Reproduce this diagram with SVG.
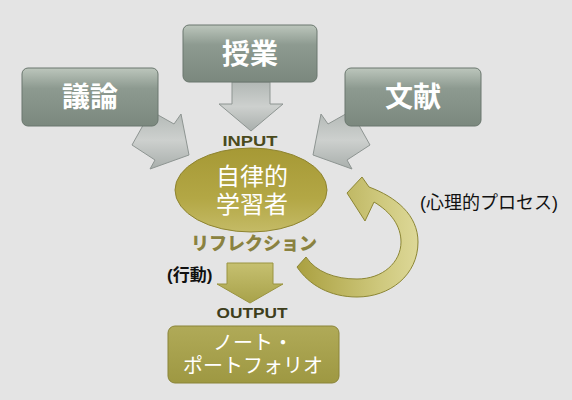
<svg xmlns="http://www.w3.org/2000/svg" width="572" height="400" viewBox="0 0 572 400">
<defs>
<linearGradient id="gBox" x1="0" y1="0" x2="0" y2="1">
<stop offset="0" stop-color="#bcc6bc"/><stop offset="0.35" stop-color="#8d9a90"/><stop offset="1" stop-color="#7b887e"/>
</linearGradient>
<linearGradient id="gGray" x1="0" y1="0" x2="0" y2="1">
<stop offset="0" stop-color="#b2b8b5"/><stop offset="0.5" stop-color="#cdd0ce"/><stop offset="1" stop-color="#a9afac"/>
</linearGradient>
<linearGradient id="gOlive" x1="0" y1="0" x2="0" y2="1">
<stop offset="0" stop-color="#c6c070"/><stop offset="1" stop-color="#a8a24a"/>
</linearGradient>
<linearGradient id="gEll" x1="0" y1="0" x2="0" y2="1">
<stop offset="0" stop-color="#a69935"/><stop offset="0.6" stop-color="#b3a745"/><stop offset="1" stop-color="#c4bb66"/>
</linearGradient>
<linearGradient id="gOut" x1="0" y1="0" x2="0" y2="1">
<stop offset="0" stop-color="#b0aa58"/><stop offset="1" stop-color="#9e9842"/>
</linearGradient>
<linearGradient id="gCirc" x1="0" y1="0" x2="1" y2="0">
<stop offset="0" stop-color="#aaa040"/><stop offset="0.7" stop-color="#cfc97e"/><stop offset="1" stop-color="#ddd898"/>
</linearGradient>
</defs>
<style>
.box{fill:url(#gBox);stroke:#6a776e;stroke-width:1}
.gray{fill:url(#gGray);stroke:#8e9592;stroke-width:1}
.olive{fill:url(#gOlive);stroke:#9a9440;stroke-width:1}
.bt{font-family:"Liberation Sans","Noto Sans CJK JP",sans-serif;font-weight:bold;font-size:28px;fill:#ffffff;text-anchor:middle}
.wt{font-family:"Liberation Sans","Noto Sans CJK JP",sans-serif;font-size:24px;fill:#ffffff;text-anchor:middle}
.ot{font-family:"Liberation Sans","Noto Sans CJK JP",sans-serif;font-size:20px;fill:#ffffff;text-anchor:middle}
.lab{font-family:"Liberation Sans","Noto Sans CJK JP",sans-serif;font-weight:900;text-anchor:middle}
.blk{font-family:"Liberation Sans","Noto Sans CJK JP",sans-serif;fill:#111111}
</style>
<rect width="572" height="400" fill="#e4e4e4"/>
<g id="connectors">
<polygon class="gray" points="232,82 270,82 270,104 283,104 251,131 219,104 232,104"/>
<polygon class="gray" points="151,111 174,124 181,114 189,155 150,169 155,160 132,145"/>
<polygon class="gray" points="351,111 328,124 321,114 313,155 352,169 347,160 370,145"/>
<polygon class="olive" points="227,263 273,263 273,284 283,284 250,303 217,284 227,284"/>
<path d="M369,187 C396,197 418,215 418,242 C418,275 390,297 357,297 C330,297 309,285 297,267 L306,257 C316,272 335,279 357,279 C383,279 401,262 401,242 C401,226 391,212 374,202 L365,221 L347,193 L362,177 Z" fill="url(#gCirc)" stroke="#8c8634" stroke-width="1"/>
</g>
<g id="node-giron">
<rect class="box" x="22" y="68" width="136" height="58" rx="6"/>
<text class="bt" x="90" y="107">議論</text>
</g>
<g id="node-jugyo">
<rect class="box" x="183" y="25" width="134" height="57" rx="6"/>
<text class="bt" x="250" y="64">授業</text>
</g>
<g id="node-bunken">
<rect class="box" x="345" y="68" width="136" height="58" rx="6"/>
<text class="bt" x="413" y="107">文献</text>
</g>
<g id="label-input">
<text class="lab" x="250" y="146" font-size="15" fill="#4a4a1c" textLength="55" lengthAdjust="spacingAndGlyphs">INPUT</text>
</g>
<g id="node-learner">
<ellipse cx="251" cy="190" rx="76" ry="42" fill="url(#gEll)" stroke="#8e8430" stroke-width="1"/>
<text class="wt" x="252" y="185">自律的</text>
<text class="wt" x="252" y="213">学習者</text>
</g>
<g id="label-reflection">
<text class="lab" x="254" y="250" font-size="18" fill="#8a8240">リフレクション</text>
</g>
<g id="label-process">
<text class="blk" x="420" y="209" font-size="18">(心理的プロセス)</text>
</g>
<g id="label-action">
<text class="blk" x="167" y="281" font-size="17" font-weight="bold">(行動)</text>
</g>
<g id="label-output">
<text class="lab" x="252" y="318" font-size="15" fill="#3e3e1c" textLength="71" lengthAdjust="spacingAndGlyphs">OUTPUT</text>
</g>
<g id="node-portfolio">
<rect x="168" y="326" width="171" height="57" rx="7" fill="url(#gOut)" stroke="#8a8438" stroke-width="1"/>
<text class="ot" x="253" y="350">ノート・</text>
<text class="ot" x="253" y="373">ポートフォリオ</text>
</g>
</svg>
